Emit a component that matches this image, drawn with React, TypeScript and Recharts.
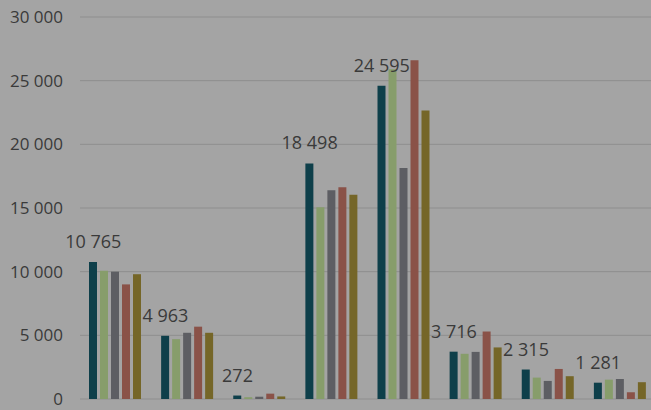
import React from "react";
import { ComposedChart, Bar, Line, XAxis, YAxis, CartesianGrid } from "recharts";

// 8 groups, 5 series each
const categories = ["G1", "G2", "G3", "G4", "G5", "G6", "G7", "G8"];
const teal = [10765, 4963, 272, 18498, 24595, 3716, 2315, 1281];
const green = [10070, 4700, 140, 15050, 25900, 3550, 1680, 1520];
const grey = [10000, 5200, 180, 16400, 18150, 3700, 1420, 1570];
const red = [9000, 5680, 420, 16620, 26600, 5300, 2360, 530];
const olive = [9800, 5200, 200, 16050, 22650, 4050, 1790, 1320];
const yTicks = [0, 5000, 10000, 15000, 20000, 25000, 30000];

const data = categories.map((name, i) => ({
  name,
  teal: teal[i],
  green: green[i],
  grey: grey[i],
  red: red[i],
  olive: olive[i],
}));

const fmt = (v: number) => String(v).replace(/\B(?=(\d{3})+(?!\d))/g, " ");

const BAR_SIZE = 8.4;
const BAR_GAP = 3;

// label sits over the first (teal) bar of each group
const renderLabel = (props: any) => {
  const { x, y, value, index } = props;
  const cx = x - 2 * (BAR_SIZE + BAR_GAP);
  return (
    <text
      key={`lbl-${index}`}
      x={cx}
      y={y - 14}
      textAnchor="middle"
      fill="#3a3a3a"
      fontSize={18}
      fontFamily="'Open Sans', sans-serif"
    >
      {fmt(value)}
    </text>
  );
};

export default function App() {
  return (
    <div
      style={{
        position: "fixed",
        left: 0,
        top: 0,
        width: 651,
        height: 410,
        overflow: "hidden",
        background: "#a4a4a4",
      }}
    >
      <ComposedChart
        width={657}
        height={410}
        data={data}
        margin={{ top: 17, right: 0, bottom: 11, left: 0 }}
        barCategoryGap={9}
        barGap={BAR_GAP}
      >
        <CartesianGrid horizontal vertical={false} stroke="#8e8e8e" />
        <XAxis dataKey="name" hide />
        <YAxis
          width={80}
          domain={[0, 30000]}
          ticks={yTicks}
          interval={0}
          axisLine={false}
          tickLine={false}
          tickMargin={11}
          tickFormatter={fmt}
          tick={{ fill: "#3a3a3a", fontSize: 17, fontFamily: "'Open Sans', sans-serif" }}
        />
        <Bar dataKey="teal" fill="#0e3f4a" isAnimationActive={false} />
        <Bar dataKey="green" fill="#879d6b" isAnimationActive={false} />
        <Bar dataKey="grey" fill="#5d5e63" isAnimationActive={false} />
        <Bar dataKey="red" fill="#8a5248" isAnimationActive={false} />
        <Bar dataKey="olive" fill="#756628" isAnimationActive={false} />
        <Line
          dataKey="teal"
          stroke="none"
          dot={false}
          activeDot={false}
          label={renderLabel}
          isAnimationActive={false}
        />
      </ComposedChart>
    </div>
  );
}
